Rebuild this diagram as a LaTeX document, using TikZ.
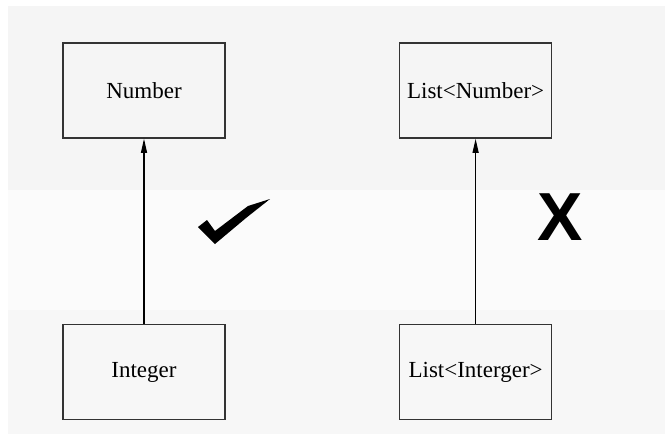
\documentclass[tikz,border=0pt]{standalone}
\usepackage{fontspec}
\setmainfont{Liberation Serif}
\newfontfamily\xfont{Liberation Sans}
\usetikzlibrary{positioning,arrows.meta}

\tikzset{
  typebox/.style={draw=black!80, line width=1.6pt, minimum width=162pt, minimum height=95pt,
    inner sep=0pt, font=\fontsize{23}{25}\selectfont},
  listbox/.style={typebox, minimum width=152pt},
  subarrow/.style={line width=1.1pt, -{Triangle[length=14pt,width=6pt]}}
}

\begin{document}
\begin{tikzpicture}[x=1pt,y=-1pt]
    \useasboundingbox (0,0) rectangle (665,434);
    % Hatter savok
    \fill[white] (0,0) rectangle (665,434);
    \fill[black!4] (8,6) rectangle (665,190);     % Felso sav
    \fill[black!1.5] (8,190) rectangle (665,310); % Kozepso sav
    \fill[black!3] (8,310) rectangle (665,434);   % Also sav

    % Dobozok
    \node[typebox] (num) at (144,90.5) {Number};
    \node[listbox, right=173pt of num] (listnum) {List<Number>};
    \node[typebox, below=185pt of num] (int) {Integer};
    \node[listbox, below=185pt of listnum] (listint) {List<Interger>};

    % Nyilak
    \draw[subarrow] (int) -- (num);
    \draw[subarrow] (listint) -- (listnum);

    % Pipa es X
    \fill[black] (198,227) -- (207,220) -- (215,231) -- (248,206) -- (270,199)
        -- (246,218) -- (215,244) -- cycle;
    \node[font=\xfont\bfseries\fontsize{68}{70}\selectfont, inner sep=0pt] (cross) at (560,217) {X};
\end{tikzpicture}
\end{document}
